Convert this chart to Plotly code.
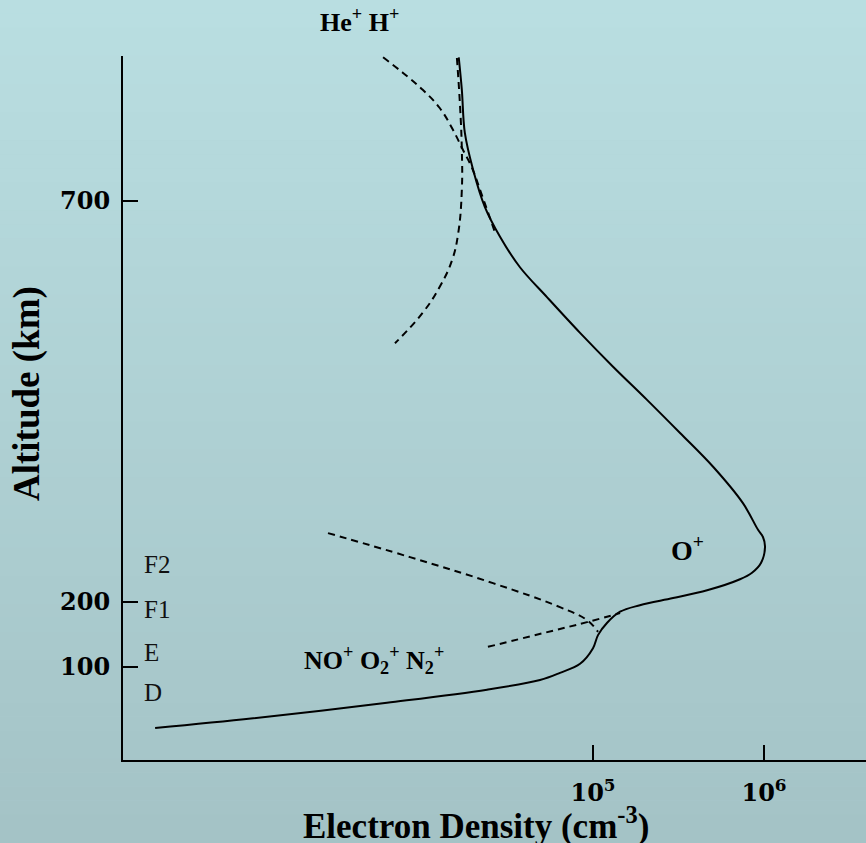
import plotly.graph_objects as go

# ---------------- data ----------------
# Altitude axis is schematic; the y values are in the chart's own altitude units,
# and the "700" tick label sits where the reference draws it.
total_density = [275, 1030, 6240, 24000, 49000, 64100, 84000, 100000, 107000, 121000,
                 144000, 188000, 294000, 465000, 724000, 851000, 960000, 1014000, 986000,
                 923000, 753000,
                 504000, 323000, 207000, 131000, 84000, 53800, 37400, 28600,
                 23300, 19900, 17800, 17100, 16400]
total_alt = [6, 21, 45, 65, 80, 91, 105, 129, 149, 168,
             185, 195, 206, 218, 235, 245, 260, 285, 300,
             311, 352,
             408, 460, 511, 562, 614, 669, 715, 762,
             808, 865, 922, 988, 1038]

he_density = [5920, 7750, 10100, 12700, 15200, 17400, 19600, 22400, 26700]
he_alt = [1038, 1014, 988, 960, 926, 895, 868, 826, 769]

h_density = [16000, 16700, 17100, 17100, 16300, 15000, 12700, 10100, 6950]
h_alt = [1037, 962, 895, 834, 768, 726, 685, 645, 598]

mol_upper_density = [2820, 8510, 26000, 64100, 92300, 107000]
mol_upper_alt = [306, 269, 229, 192, 172, 154]

mol_lower_density = [24300, 51000, 92300, 144000]
mol_lower_alt = [131, 152, 169, 183]

x_tick_vals = [1e5, 1e6]
x_tick_text = ["10<sup>5</sup>", "10<sup>6</sup>"]
y_tick_vals = [100, 200, 817]
y_tick_text = ["100", "200", "700"]

layer_names = ["F2", "F1", "E", "D"]
layer_alt = [258, 188, 122, 60]

# ---------------- figure ----------------
W, H = 866, 843
ML, MR, MT, MB = 123, 0, 56, 83
PW, PH = W - ML - MR, H - MT - MB


def px_to_paper_x(px):
    return (px - ML) / PW


def px_to_paper_y(py):
    return (H - MB - py) / PH


fig = go.Figure()

solid = dict(color="black", width=2, shape="spline", smoothing=1.0)
dashed = dict(color="black", width=2, dash="7px,5px", shape="spline", smoothing=1.2)

fig.add_trace(go.Scatter(x=total_density, y=total_alt, mode="lines", line=solid,
                         name="Electron density", cliponaxis=False))
fig.add_trace(go.Scatter(x=he_density, y=he_alt, mode="lines", line=dashed, name="He+",
                         cliponaxis=False))
fig.add_trace(go.Scatter(x=h_density, y=h_alt, mode="lines", line=dashed, name="H+",
                         cliponaxis=False))
fig.add_trace(go.Scatter(x=mol_upper_density, y=mol_upper_alt, mode="lines", line=dashed,
                         name="molecular"))
fig.add_trace(go.Scatter(x=mol_lower_density, y=mol_lower_alt, mode="lines", line=dashed,
                         name="molecular 2"))

# background gradient as bands
top_rgb = (185, 222, 225)
bot_rgb = (164, 195, 198)
n_bands = 60
shapes = []
y_top_paper = px_to_paper_y(0)
y_bot_paper = px_to_paper_y(H)
for i in range(n_bands):
    t = i / (n_bands - 1)
    r = round(top_rgb[0] + (bot_rgb[0] - top_rgb[0]) * t)
    g = round(top_rgb[1] + (bot_rgb[1] - top_rgb[1]) * t)
    b = round(top_rgb[2] + (bot_rgb[2] - top_rgb[2]) * t)
    y0 = y_top_paper + (y_bot_paper - y_top_paper) * i / n_bands
    y1 = y_top_paper + (y_bot_paper - y_top_paper) * (i + 1) / n_bands
    shapes.append(dict(type="rect", xref="paper", yref="paper",
                       x0=px_to_paper_x(0), x1=1.0, y0=y1, y1=y0 + 0.0005,
                       fillcolor=f"rgb({r},{g},{b})", line=dict(width=0), layer="below"))

serif = "Liberation Serif"
annotations = []
# axis titles
annotations.append(dict(text="Electron Density (cm<sup>-3</sup>)", xref="paper", yref="paper",
                        x=px_to_paper_x(476), y=px_to_paper_y(823), showarrow=False,
                        font=dict(family=serif, size=35, color="black", weight="bold"),
                        xanchor="center", yanchor="middle"))
annotations.append(dict(text="Altitude (km)", xref="paper", yref="paper",
                        x=px_to_paper_x(27), y=px_to_paper_y(394), showarrow=False, textangle=-90,
                        font=dict(family=serif, size=37, color="black", weight="bold"),
                        xanchor="center", yanchor="middle"))
# ion labels
annotations.append(dict(text="He<sup>+</sup> H<sup>+</sup>", xref="paper", yref="paper",
                        x=px_to_paper_x(318), y=px_to_paper_y(20), showarrow=False,
                        font=dict(family=serif, size=26, color="black", weight="bold"),
                        xanchor="left", yanchor="middle"))
annotations.append(dict(text="O<sup>+</sup>", xref="paper", yref="paper",
                        x=px_to_paper_x(669), y=px_to_paper_y(548), showarrow=False,
                        font=dict(family=serif, size=28, color="black", weight="bold"),
                        xanchor="left", yanchor="middle"))
annotations.append(dict(text="NO<sup>+</sup> O<sub>2</sub><sup>+</sup> N<sub>2</sub><sup>+</sup>",
                        xref="paper", yref="paper",
                        x=px_to_paper_x(302), y=px_to_paper_y(660), showarrow=False,
                        font=dict(family=serif, size=26, color="black", weight="bold"),
                        xanchor="left", yanchor="middle"))
# layer names
for name, alt in zip(layer_names, layer_alt):
    annotations.append(dict(text=name, xref="paper", x=px_to_paper_x(142), yref="y", y=alt,
                            showarrow=False, xanchor="left", yanchor="middle",
                            font=dict(family=serif, size=25, color="#111111")))

fig.update_layout(
    width=W, height=H,
    margin=dict(l=ML, r=MR, t=MT, b=MB),
    paper_bgcolor="rgb(175,208,211)",
    plot_bgcolor="rgba(0,0,0,0)",
    showlegend=False,
    shapes=shapes,
    annotations=annotations,
    xaxis=dict(type="log", range=[2.2515, 6.5965], showgrid=False, zeroline=False,
               showline=True, linecolor="black", linewidth=2,
               tickvals=x_tick_vals, ticktext=x_tick_text,
               ticks="inside", ticklen=15, tickwidth=2, tickcolor="black",
               ticklabelstandoff=10,
               tickfont=dict(family="DejaVu Serif", size=24, color="black", weight="bold")),
    yaxis=dict(range=[-43.1, 1040], showgrid=False, zeroline=False,
               showline=True, linecolor="black", linewidth=2,
               tickvals=y_tick_vals, ticktext=y_tick_text,
               ticks="inside", ticklen=15, tickwidth=2, tickcolor="black",
               ticklabelstandoff=6,
               tickfont=dict(family="DejaVu Serif", size=24, color="black", weight="bold")),
)

fig.write_html("out.html", config={"displayModeBar": False},
               post_script="document.body.style.margin='0';document.body.style.overflow='hidden';")
